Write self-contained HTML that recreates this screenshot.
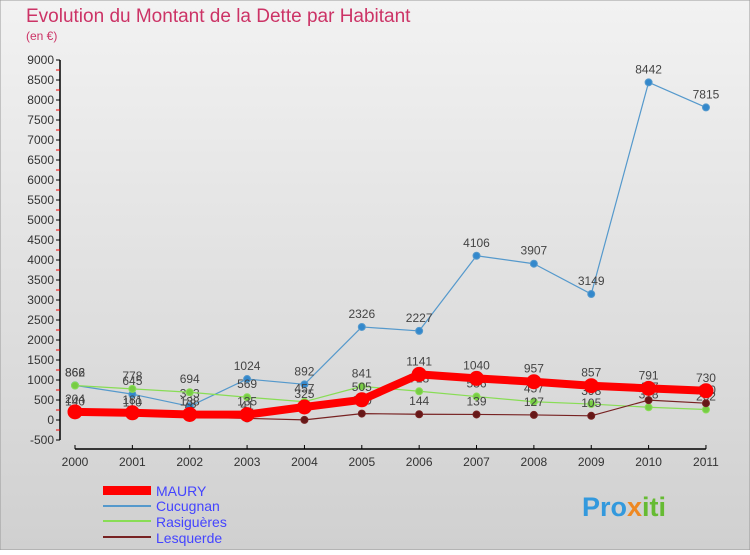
<!DOCTYPE html>
<html><head><meta charset="utf-8"><style>
body{margin:0;width:750px;height:550px;overflow:hidden;font-family:"Liberation Sans",sans-serif}
</style></head><body>
<svg width="750" height="550" xmlns="http://www.w3.org/2000/svg">
<defs><linearGradient id="bg" x1="0" y1="0" x2="0" y2="1"><stop offset="0" stop-color="#f2f2f2"/><stop offset="1" stop-color="#d0d0d0"/></linearGradient></defs>
<rect x="0" y="0" width="750" height="550" fill="url(#bg)" stroke="#999"/>
<text x="26" y="22" font-size="19" fill="#cc3366">Evolution du Montant de la Dette par Habitant</text>
<text x="26" y="40" font-size="12" fill="#cc3366">(en €)</text>
<g id="axes"></g>
<g id="series"></g>
<g>
<rect x="103" y="486" width="48" height="9" fill="#ff0000"/>
<text x="156" y="496" font-size="14" fill="#4444ff">MAURY</text>
<line x1="103" y1="506" x2="151" y2="506" stroke="#5599cc" stroke-width="2"/>
<text x="156" y="511" font-size="14" fill="#4444ff">Cucugnan</text>
<line x1="103" y1="521" x2="151" y2="521" stroke="#88dd55" stroke-width="2"/>
<text x="156" y="527" font-size="14" fill="#4444ff">Rasiguères</text>
<line x1="103" y1="537" x2="151" y2="537" stroke="#772222" stroke-width="2"/>
<text x="156" y="543" font-size="14" fill="#4444ff">Lesquerde</text>
</g>
<text x="582" y="516" font-size="27" font-weight="bold" fill="#3399dd">Pro<tspan fill="#ee8822">x</tspan><tspan fill="#66bb33">iti</tspan></text>
</svg>
<script>
const years=[2000,2001,2002,2003,2004,2005,2006,2007,2008,2009,2010,2011];
const yTicks=[-500,0,500,1000,1500,2000,2500,3000,3500,4000,4500,5000,5500,6000,6500,7000,7500,8000,8500,9000];
const maury=[204,181,138,135,325,505,1141,1040,957,857,791,730];
const cucugnan=[866,645,343,1024,892,2326,2227,4106,3907,3149,8442,7815];
const rasigueres=[862,778,694,569,457,841,718,586,457,398,318,262];
const lesquerde=[140,110,78,41,3,160,144,139,127,105,497,420];
const NS="http://www.w3.org/2000/svg";
const X=i=>75+i*57.36;
const Y=v=>420-v*0.04;
function mk(tag,attrs,parent){const e=document.createElementNS(NS,tag);for(const k in attrs)e.setAttribute(k,attrs[k]);parent.appendChild(e);return e;}
const ax=document.getElementById('axes');
let yl=mk('line',{x1:60,y1:Y(9000),x2:60,y2:Y(-500),stroke:'#000','stroke-width':1.5},ax);


const maxT=yTicks[yTicks.length-1];
yTicks.forEach(t=>{
 mk('line',{x1:56,y1:Y(t),x2:60,y2:Y(t),stroke:'#000'},ax);
 if(t<maxT) mk('line',{x1:56,y1:Y(t+250),x2:60,y2:Y(t+250),stroke:'#e00'},ax);
 const tx=mk('text',{x:54,y:Y(t)+4,'font-size':12,'text-anchor':'end',fill:'#333'},ax);
 tx.textContent=t;
 
 
});
let xl=mk('line',{x1:X(0),y1:449,x2:X(11),y2:449,stroke:'#000','stroke-width':1.5},ax);


years.forEach((yr,i)=>{
 mk('line',{x1:X(i),y1:445,x2:X(i),y2:449,stroke:'#000'},ax);
 const tx=mk('text',{x:X(i),y:466,'font-size':12,'text-anchor':'middle',fill:'#333'},ax);
 tx.textContent=yr;
 
 
});
const sg=document.getElementById('series');
function series(name,vals,color,w,r,dot){
 const g=mk('g',{},sg);
 
 
 mk('polyline',{points:vals.map((v,i)=>X(i)+','+Y(v)).join(' '),fill:'none',stroke:color,'stroke-width':w,'stroke-linejoin':'round'},g);
 vals.forEach((v,i)=>{
  const c=mk('circle',{cx:X(i),cy:Y(v),r:r,fill:dot,stroke:color,'stroke-width':1},g);
  
  
  const t=mk('text',{x:X(i),y:Y(v)-9,'font-size':12,'text-anchor':'middle',fill:'#444'},g);
  t.textContent=v;
  
  
 });
}
series('cucugnan',cucugnan,'#5599cc',1.2,3.5,'#3388cc');
series('rasigueres',rasigueres,'#88dd55',1.2,3.5,'#77cc44');
series('lesquerde',lesquerde,'#772222',1.2,3.5,'#661818');
series('maury',maury,'#ff0000',8,7,'#ff0000');
</script>
</body></html>
